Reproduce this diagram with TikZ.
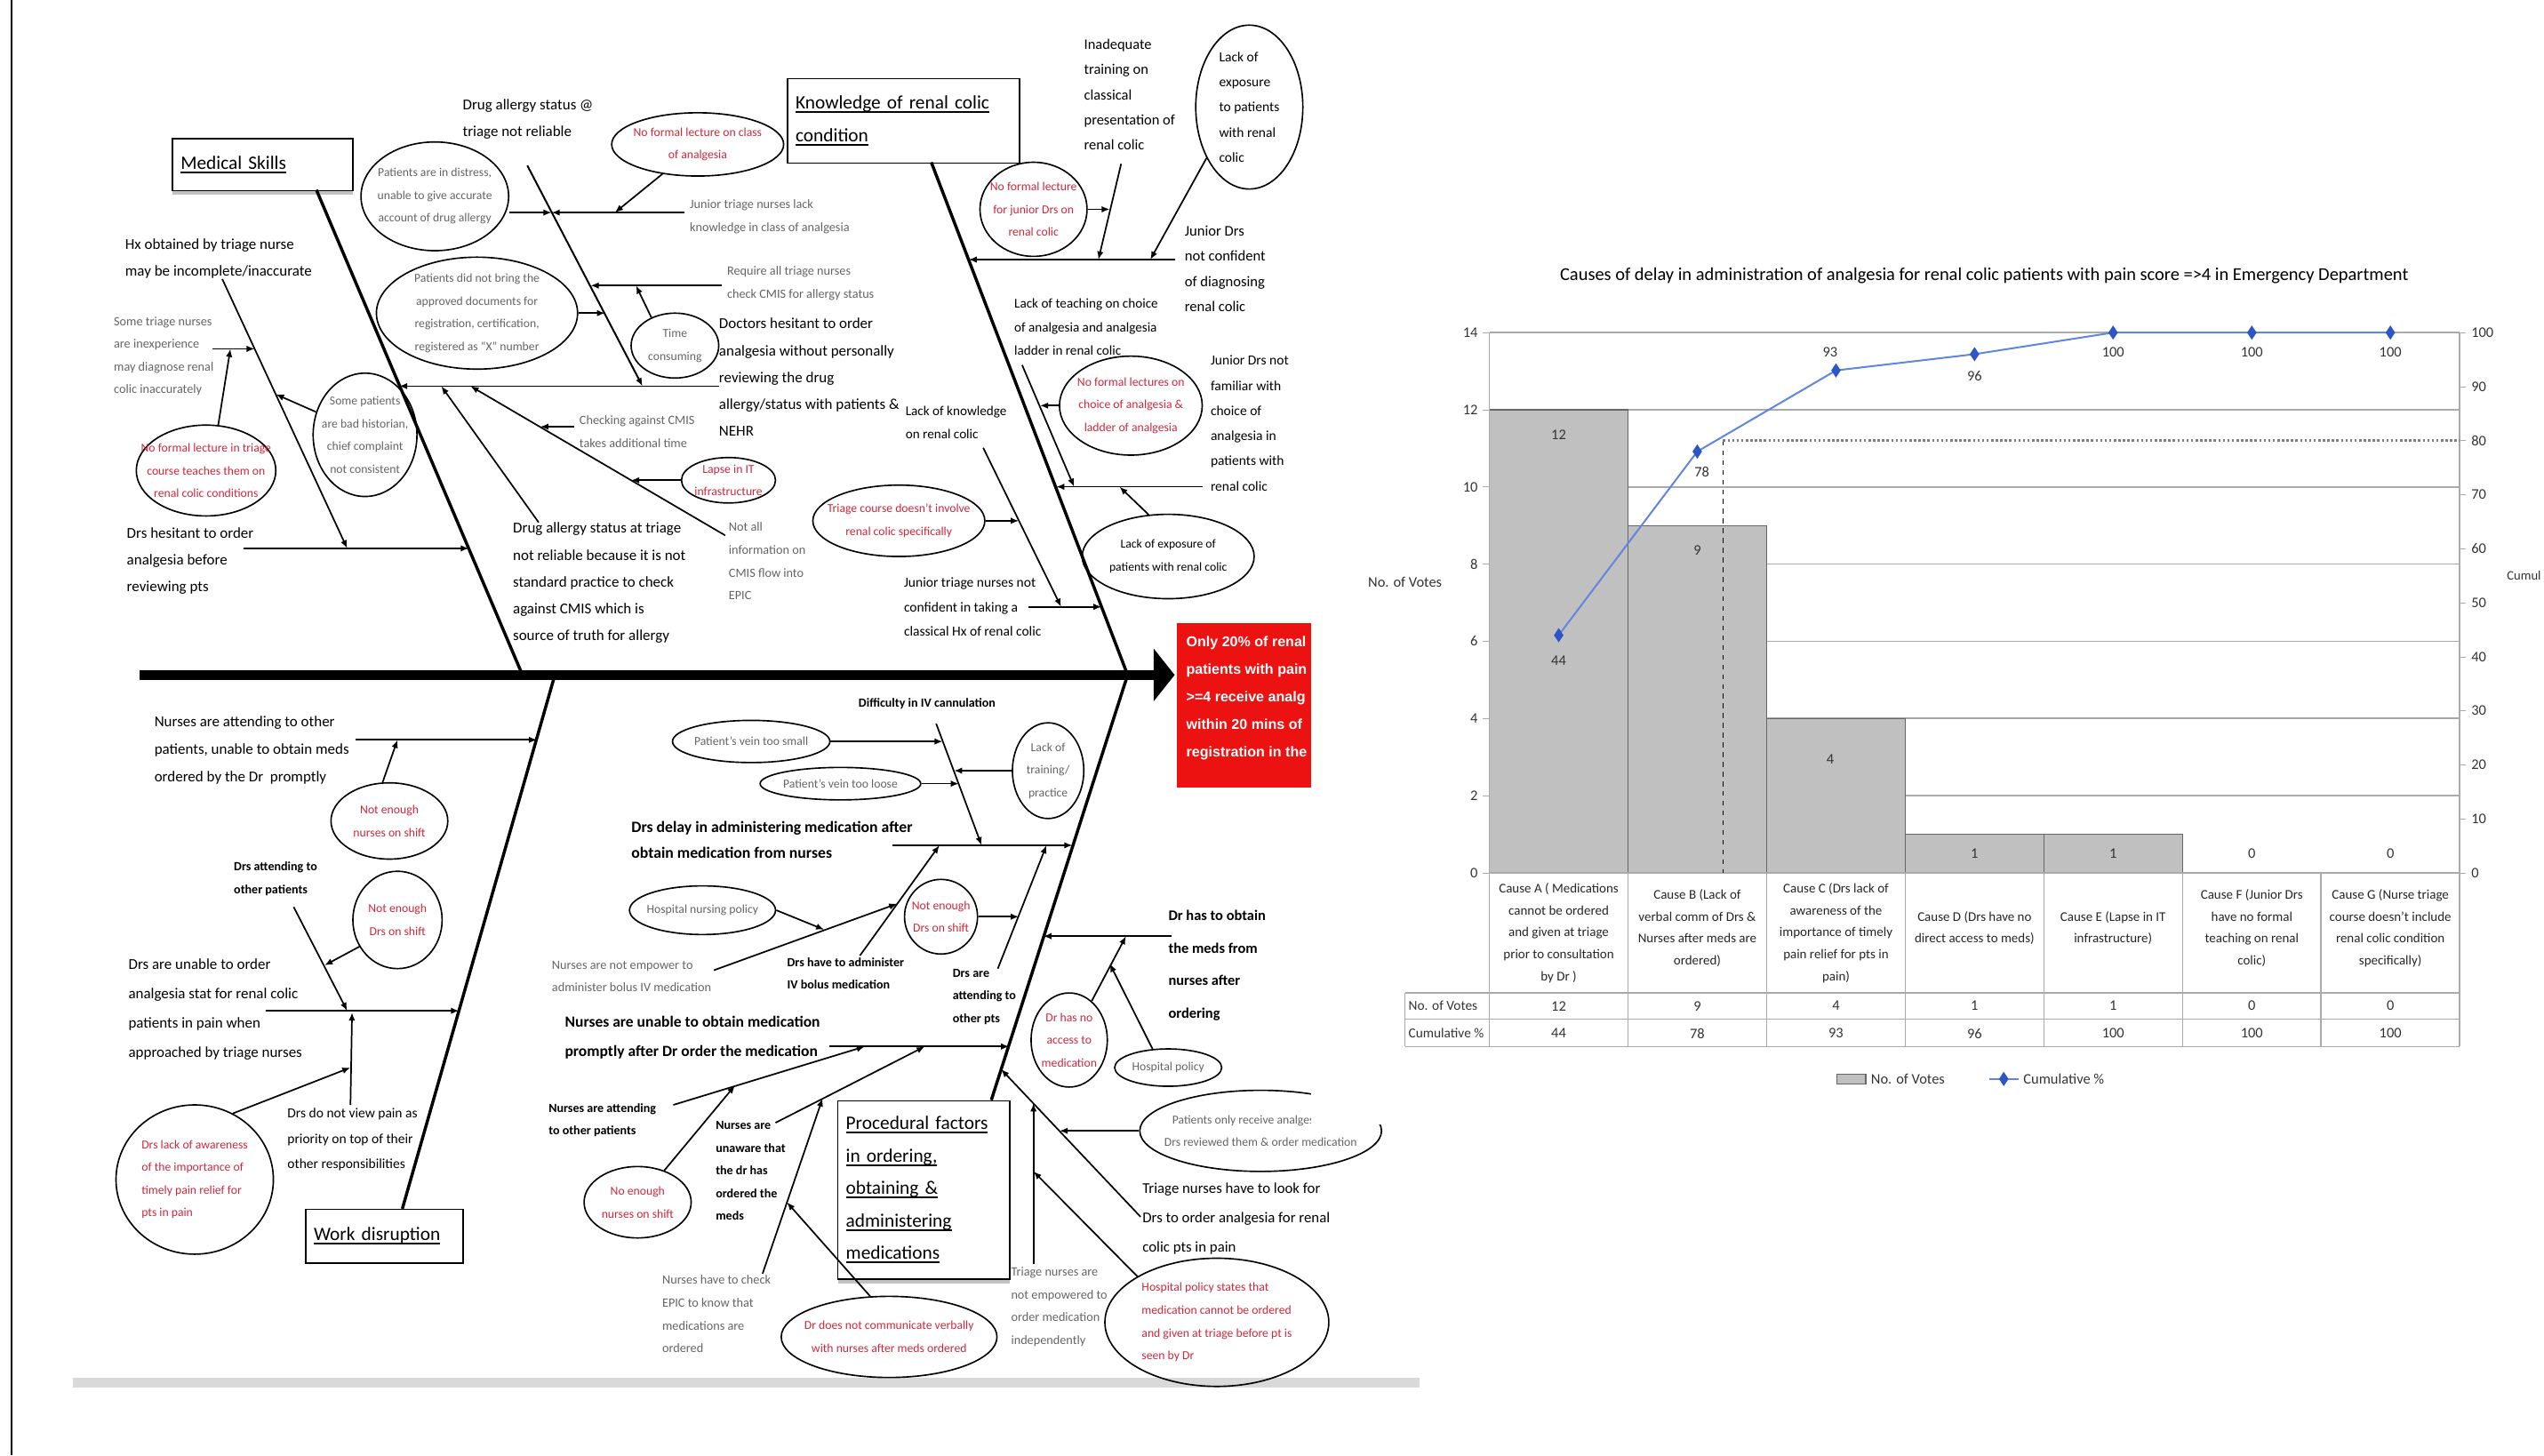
\documentclass[tikz,border=0pt]{standalone}
\usepackage{fontspec}
\setmainfont{Carlito}
\newfontfamily\arialfont{Liberation Sans}
\usetikzlibrary{arrows.meta, shapes.geometric, shadows}

\definecolor{redtxt}{RGB}{205,40,60}
\definecolor{greytxt}{RGB}{100,100,100}
\definecolor{effred}{RGB}{236,18,18}
\definecolor{cumblue}{RGB}{95,135,220}
\definecolor{mkblue}{RGB}{45,85,200}
\definecolor{bargrey}{RGB}{192,192,192}
\definecolor{gridgrey}{RGB}{170,170,170}

\newsavebox{\ulbox}
\newcommand{\ulx}[1]{\leavevmode\sbox{\ulbox}{#1}\rlap{\rule[-2.4pt]{\wd\ulbox}{1.1pt}}\usebox{\ulbox}}

\tikzset{
  cause/.style={font=\fontsize{9.3}{16.5}\selectfont, align=left, anchor=north west, inner sep=0pt},
  mid/.style={font=\fontsize{8.5}{15.5}\selectfont, align=left, anchor=north west, inner sep=0pt},
  note/.style={font=\fontsize{7.8}{14}\selectfont, text=greytxt, align=left, anchor=north west, inner sep=0pt},
  bnote/.style={font=\fontsize{7.7}{14}\selectfont\bfseries, align=left, anchor=north west, inner sep=0pt},
  bcause/.style={font=\fontsize{9.7}{16}\selectfont\bfseries, align=left, anchor=north west, inner sep=0pt},
  ell/.style={draw, ellipse, line width=0.9pt, inner sep=0pt},
  etxt/.style={font=\fontsize{7.5}{14}\selectfont, text=greytxt, align=center, inner sep=0pt},
  rtxt/.style={etxt, text=redtxt},
  catbox/.style={draw, line width=0.8pt, fill=white, anchor=north west, inner ysep=0pt, inner xsep=5pt, font=\fontsize{11.7}{20}\selectfont, align=left},
  shad/.style={drop shadow={shadow xshift=0pt, shadow yshift=-2.5pt, fill=gray!80, opacity=0.6}},
  arr/.style={line width=0.95pt, -{Latex[length=5pt, width=4pt]}},
  bone/.style={line width=1.9pt},
  barst/.style={fill=bargrey, draw=black!60, line width=0.7pt},
  axl/.style={font=\fontsize{9}{10}\selectfont, text=black!80, inner sep=0pt},
  cellt/.style={font=\fontsize{8.2}{13.5}\selectfont, align=center, inner sep=0pt, text=black!85},
  mk/.style={diamond, fill=mkblue, inner sep=0pt, minimum width=6, minimum height=9},
  cum/.style={cumblue, line width=1.1pt}
}

\begin{document}
\begin{tikzpicture}[x=1pt, y=-1pt]
\useasboundingbox (0,0) rectangle (1568,897);

\draw[line width=1pt] (7,0) -- (7,897);
\fill[gray!30] (45,849) rectangle (875,855);

\coordinate (sp1) at (86,416);
\coordinate (sp2) at (724,416);
\draw[line width=6pt, -{Triangle[length=13pt, width=32pt]}] (sp1) -- (sp2);

\node[fill=effred, minimum width=83, minimum height=101, anchor=north west, inner sep=0pt] (eff) at (725,384) {};
\begin{scope}
\clip (eff.north west) rectangle (eff.south east);
\node[anchor=north west, inner sep=0pt, align=left, text=white, font=\arialfont\bfseries\fontsize{8.8}{17}\selectfont] (efft) at (731,392) {Only 20\% of renal\\patients with pain\\>=4 receive analg\\within 20 mins of\\registration in the};
\end{scope}

\node[catbox, shad, text width=101, minimum height=32] (ms) at (106,85) {\ulx{Medical Skills}};
\coordinate (msT) at (195,117);
\coordinate (msB) at (322,416);
\draw[bone] (msT) -- (msB);

\node[cause] (hx) at (77,147) {Hx obtained by triage nurse\\may be incomplete/inaccurate};
\coordinate (hx1) at (137,172);
\coordinate (hx2) at (214,338);
\draw[arr] (hx1) -- (hx2);
\node[note] (stn) at (70,195) {Some triage nurses\\are inexperience\\may diagnose renal\\colic inaccurately};
\coordinate (stn1) at (131,215);
\coordinate (stn2) at (157,215);
\draw[arr] (stn1) -- (stn2);
\node[ell, minimum width=86, minimum height=56] (nfl) at (127,290) {};
\node[rtxt] (nflt) at (nfl) {No formal lecture in triage\\course teaches them on\\renal colic conditions};
\coordinate (nfl2) at (142,215);
\draw[arr] (nfl.75) -- (nfl2);
\node[ell, minimum width=64, minimum height=76] (sbh) at (225,268) {};
\node[etxt] (sbht) at (sbh) {Some patients\\are bad historian,\\chief complaint\\not consistent};
\coordinate (sbh2) at (170,243);
\draw[arr] (sbh.155) -- (sbh2);
\node[cause] (dh) at (78,325) {Drs hesitant to order\\analgesia before\\reviewing pts};
\coordinate (dh1) at (150,338);
\coordinate (dh2) at (289,338);
\draw[arr] (dh1) -- (dh2);

\node[cause] (da) at (285,61) {Drug allergy status @\\triage not reliable};
\coordinate (daT) at (325,102);
\coordinate (daB) at (396,238);
\draw[arr, line width=1.1pt] (daT) -- (daB);
\node[ell, minimum width=91, minimum height=67] (pd) at (268,121) {};
\node[etxt] (pdt) at (pd) {Patients are in distress,\\unable to give accurate\\account of drug allergy};
\node[note] (jt) at (425,123) {Junior triage nurses lack\\knowledge in class of analgesia};
\coordinate (jt1) at (422,131);
\coordinate (jt2) at (340,131);
\draw[arr] (jt1) -- (jt2);
\draw[arr] (pd.east |- jt2) -- (jt2);
\node[ell, minimum width=106, minimum height=39] (nfc) at (430,89) {};
\node[rtxt] (nfct) at (nfc) {No formal lecture on class\\of analgesia};
\coordinate (nfc2) at (379,131);
\draw[arr] (nfc.220) -- (nfc2);
\node[ell, minimum width=124, minimum height=69] (pb) at (294,193) {};
\node[etxt] (pbt) at (pb) {Patients did not bring the\\approved documents for\\registration, certification,\\registered as ``X'' number};
\coordinate (pb2) at (373,193);
\draw[arr] (pb.east) -- (pb2);
\node[note] (rq) at (448,164) {Require all triage nurses\\check CMIS for allergy status};
\coordinate (rq1) at (445,176);
\coordinate (rq2) at (364,176);
\draw[arr] (rq1) -- (rq2);
\node[ell, minimum width=54, minimum height=40] (tc) at (416,213) {};
\node[etxt] (tct) at (tc) {Time\\consuming};
\coordinate (tc2) at (392,176);
\draw[arr] (tc.130) -- (tc2);
\node[cause] (dr) at (443,196) {Doctors hesitant to order\\analgesia without personally\\reviewing the drug\\allergy/status with patients \&\\NEHR};
\coordinate (dr1) at (443,238);
\coordinate (dr2) at (246,238);
\draw[arr] (dr1) -- (dr2);

\node[note] (na) at (449,322) {Not all\\information on\\CMIS flow into\\EPIC};
\coordinate (ck1) at (447,330);
\coordinate (ck2) at (290,238);
\draw[arr] (ck1) -- (ck2);
\node[note] (cm) at (357,256) {Checking against CMIS\\takes additional time};
\coordinate (cm1) at (354,263);
\coordinate (cm2) at (333,263);
\draw[arr] (cm1) -- (cm2);
\node[ell, minimum width=58, minimum height=28] (lit) at (449,296) {};
\node[rtxt] (litt) at (lit) {Lapse in IT\\infrastructure};
\coordinate (lit2) at (389,296);
\draw[arr] (lit.west) -- (lit2);
\node[cause] (dt) at (316,322) {Drug allergy status at triage\\not reliable because it is not\\standard practice to check\\against CMIS which is\\source of truth for allergy};
\coordinate (dt1) at (332,322);
\coordinate (dt2) at (272,238);
\draw[arr] (dt1) -- (dt2);

\node[catbox, text width=133, minimum height=52] (kn) at (485,48) {\ulx{Knowledge of renal colic}\\\ulx{condition}};
\coordinate (kT) at (574,100);
\coordinate (kB) at (695,416);
\draw[bone] (kT) -- (kB);
\node[mid, font=\fontsize{9}{15.5}\selectfont] (ina) at (668,24) {Inadequate\\training on\\classical\\presentation of\\renal colic};
\coordinate (ina1) at (691,101);
\coordinate (ina2) at (677,160);
\draw[arr] (ina1) -- (ina2);
\node[ell, minimum width=66, minimum height=58] (nfj) at (637,129) {};
\node[rtxt] (nfjt) at (nfj) {No formal lecture\\for junior Drs on\\renal colic};
\coordinate (nfj2) at (684,129);
\draw[arr] (nfj.east) -- (nfj2);
\node[ell, minimum width=66, minimum height=101] (lex) at (770,66) {};
\node[mid, anchor=center] (lext) at (lex) {Lack of\\exposure\\to patients\\with renal\\colic};
\coordinate (lex2) at (709,160);
\draw[arr] (lex.230) -- (lex2);
\coordinate (jd1) at (724,160);
\coordinate (jd2) at (597,160);
\draw[arr] (jd1) -- (jd2);
\node[cause, font=\fontsize{9.1}{15.5}\selectfont] (jd) at (730,139) {Junior Drs\\not confident\\of diagnosing\\renal colic};
\node[mid, font=\fontsize{8.3}{14.5}\selectfont] (lt) at (625,184) {Lack of teaching on choice\\of analgesia and analgesia\\ladder in renal colic};
\coordinate (lt1) at (630,225);
\coordinate (lt2) at (662,300);
\draw[arr] (lt1) -- (lt2);
\node[ell, minimum width=88, minimum height=61] (nfa) at (697,250) {};
\node[rtxt] (nfat) at (nfa) {No formal lectures on\\choice of analgesia \&\\ladder of analgesia};
\coordinate (nfa2) at (641,250);
\draw[arr] (nfa.west) -- (nfa2);
\node[mid, font=\fontsize{8.3}{14.5}\selectfont] (lk) at (558,250) {Lack of knowledge\\on renal colic};
\coordinate (lk1) at (606,276);
\coordinate (lk2) at (654,374);
\draw[arr] (lk1) -- (lk2);
\coordinate (jf1) at (741,300);
\coordinate (jf2) at (651,300);
\draw[arr] (jf1) -- (jf2);
\node[mid, font=\fontsize{8.5}{15.5}\selectfont] (jf) at (746,219) {Junior Drs not\\familiar with\\choice of\\analgesia in\\patients with\\renal colic};
\node[ell, minimum width=106, minimum height=52] (lep) at (720,343) {};
\node[etxt, text=black] (lept) at (lep) {Lack of exposure of\\patients with renal colic};
\coordinate (lep2) at (690,300);
\draw[arr] (lep.115) -- (lep2);
\node[ell, minimum width=106, minimum height=44] (tcd) at (554,321) {};
\node[rtxt] (tcdt) at (tcd) {Triage course doesn't involve\\renal colic specifically};
\coordinate (tcd2) at (628,321);
\draw[arr] (tcd.east) -- (tcd2);
\node[mid, font=\fontsize{8.5}{15}\selectfont] (jn) at (557,356) {Junior triage nurses not\\confident in taking a\\classical Hx of renal colic};
\coordinate (jn1) at (634,374);
\coordinate (jn2) at (679,374);
\draw[arr] (jn1) -- (jn2);

\node[catbox, text width=87, minimum height=33] (wd) at (188,745) {\ulx{Work disruption}};
\coordinate (wdB) at (248,745);
\coordinate (wdT) at (342,416);
\draw[bone] (wdB) -- (wdT);
\node[cause, font=\fontsize{9.3}{17}\selectfont] (nu) at (95,441) {Nurses are attending to other\\patients, unable to obtain meds\\ordered by the Dr\ \ promptly};
\coordinate (nu1) at (219,456);
\coordinate (nu2) at (331,456);
\draw[arr] (nu1) -- (nu2);
\node[ell, minimum width=72, minimum height=47] (nen) at (240,506) {};
\node[rtxt] (nent) at (nen) {Not enough\\nurses on shift};
\coordinate (nen2) at (245,456);
\draw[arr] (nen.100) -- (nen2);
\node[bnote] (dat) at (144,531) {Drs attending to\\other patients};
\coordinate (dat1) at (181,559);
\coordinate (dat2) at (214,623);
\draw[arr] (dat1) -- (dat2);
\node[ell, minimum width=55, minimum height=60] (ned) at (245,567) {};
\node[rtxt] (nedt) at (ned) {Not enough\\Drs on shift};
\coordinate (ned2) at (200,595);
\draw[arr] (ned.215) -- (ned2);
\node[cause, font=\fontsize{9.3}{18}\selectfont] (du) at (79,591) {Drs are unable to order\\analgesia stat for renal colic\\patients in pain when\\approached by triage nurses};
\coordinate (du1) at (164,623);
\coordinate (du2) at (283,623);
\draw[arr] (du1) -- (du2);
\node[mid] (dnv) at (177,683) {Drs do not view pain as\\priority on top of their\\other responsibilities};
\coordinate (dnv1) at (216,681);
\coordinate (dnv2) at (217,624);
\draw[arr] (dnv1) -- (dnv2);
\node[ell, minimum width=97, minimum height=92] (dla) at (120,727) {};
\node[rtxt, align=left] (dlat) at (dla) {Drs lack of awareness\\of the importance of\\timely pain relief for\\pts in pain};
\coordinate (dla2) at (216,658);
\draw[arr] (dla.60) -- (dla2);

\node[catbox, shad, text width=96, minimum height=110] (pf) at (516,678) {\ulx{Procedural factors}\\\ulx{in ordering,}\\\ulx{obtaining \&}\\\ulx{administering}\\\ulx{medications}};
\coordinate (pB) at (611,678);
\coordinate (pT) at (695,416);
\draw[bone] (pB) -- (pT);
\node[bnote] (div) at (529,430) {Difficulty in IV cannulation};
\coordinate (div1) at (577,446);
\coordinate (div2) at (605,521);
\draw[arr] (div1) -- (div2);
\node[ell, minimum width=97, minimum height=26] (vs) at (463,457) {};
\node[etxt] (vst) at (vs) {Patient's vein too small};
\coordinate (vs2) at (581,457);
\draw[arr] (vs.east) -- (vs2);
\node[ell, minimum width=99, minimum height=20] (vl) at (518,483) {};
\node[etxt] (vlt) at (vl) {Patient's vein too loose};
\coordinate (vl2) at (591,483);
\draw[arr] (vl.east) -- (vl2);
\node[ell, minimum width=44, minimum height=59] (ltp) at (646,475) {};
\node[etxt] (ltpt) at (ltp) {Lack of\\training/\\practice};
\coordinate (ltp2) at (588,475);
\draw[arr] (ltp.west) -- (ltp2);
\node[bcause] (dd) at (389,506) {Drs delay in administering medication after\\obtain medication from nurses};
\coordinate (dd1) at (550,521);
\coordinate (dd2) at (661,521);
\draw[arr] (dd1) -- (dd2);
\node[ell, minimum width=90, minimum height=30] (hnp) at (433,561) {};
\node[etxt] (hnpt) at (hnp) {Hospital nursing policy};
\node[note] (ne) at (340,592) {Nurses are not empower to\\administer bolus IV medication};
\coordinate (ne1) at (440,598);
\coordinate (ne2) at (553,557);
\draw[arr] (ne1) -- (ne2);
\coordinate (hnp2) at (508,573);
\draw[arr] (hnp.east) -- (hnp2);
\node[bnote] (dha) at (485,590) {Drs have to administer\\IV bolus medication};
\coordinate (dha1) at (530,589);
\coordinate (dha2) at (579,521);
\draw[arr] (dha1) -- (dha2);
\node[ell, minimum width=45, minimum height=46] (nes) at (580,565) {};
\node[rtxt] (nest) at (nes) {Not enough\\Drs on shift};
\node[bnote] (dao) at (587,597) {Drs are\\attending to\\other pts};
\coordinate (dao1) at (615,597);
\coordinate (dao2) at (645,521);
\draw[arr] (dao1) -- (dao2);
\coordinate (nes2) at (628,565);
\draw[arr] (nes.east) -- (nes2);
\node[bcause, font=\fontsize{9.6}{18}\selectfont\bfseries] (nuo) at (348,626) {Nurses are unable to obtain medication\\promptly after Dr order the medication};
\coordinate (nuo1) at (511,645);
\coordinate (nuo2) at (622,645);
\draw[arr] (nuo1) -- (nuo2);
\node[bnote] (nat) at (338,680) {Nurses are attending\\to other patients};
\coordinate (nat1) at (415,681);
\coordinate (nat2) at (533,645);
\draw[arr] (nat1) -- (nat2);
\node[ell, minimum width=66, minimum height=44] (nns) at (393,741) {};
\node[rtxt] (nnst) at (nns) {No enough\\nurses on shift};
\coordinate (nns2) at (453,669);
\draw[arr] (nns.50) -- (nns2);
\node[bnote] (nua) at (441,691) {Nurses are\\unaware that\\the dr has\\ordered the\\meds};
\coordinate (nua1) at (478,692);
\coordinate (nua2) at (570,645);
\draw[arr] (nua1) -- (nua2);
\node[note] (nhc) at (408,786) {Nurses have to check\\EPIC to know that\\medications are\\ordered};
\coordinate (nhc1) at (470,785);
\coordinate (nhc2) at (507,677);
\draw[arr] (nhc1) -- (nhc2);
\node[ell, minimum width=133, minimum height=50] (dnc) at (548,824) {};
\node[rtxt] (dnct) at (dnc) {Dr does not communicate verbally\\with nurses after meds ordered};
\coordinate (dnc2) at (485,741);
\draw[arr] (dnc.115) -- (dnc2);

\node[bcause, font=\fontsize{9}{20}\selectfont\bfseries] (dho) at (720,561) {Dr has to obtain\\the meds from\\nurses after\\ordering};
\coordinate (dho1) at (722,577);
\coordinate (dho2) at (643,577);
\draw[arr] (dho1) -- (dho2);
\node[ell, minimum width=47, minimum height=58] (dna) at (659,641) {};
\node[rtxt] (dnat) at (dna) {Dr has no\\access to\\medication};
\coordinate (dna2) at (694,577);
\draw[arr] (dna.60) -- (dna2);
\node[ell, minimum width=66, minimum height=23] (hp) at (720,658) {};
\node[etxt] (hpt) at (hp) {Hospital policy};
\coordinate (hp2) at (684,594);
\draw[arr] (hp.130) -- (hp2);
\node[ell, minimum width=149, minimum height=50] (por) at (777,697) {};
\node[etxt] (port) at (por) {Patients only receive analgesia after\\Drs reviewed them \& order medication};
\coordinate (por2) at (653,697);
\draw[arr] (por.west) -- (por2);
\fill[white] (808,672) rectangle (868,693);
\node[cause, font=\fontsize{9.2}{18}\selectfont] (tn) at (704,729) {Triage nurses have to look for\\Drs to order analgesia for renal\\colic pts in pain};
\coordinate (tn1) at (703,750);
\coordinate (tn2) at (617,659);
\draw[arr] (tn1) -- (tn2);
\node[note] (tne) at (623,781) {Triage nurses are\\not empowered to\\order medication\\independently};
\coordinate (tne1) at (637,779);
\coordinate (tne2) at (637,680);
\draw[arr] (tne1) -- (tne2);
\node[ell, minimum width=138, minimum height=79] (hps) at (750,815) {};
\node[rtxt, align=left] (hpst) at (hps) {Hospital policy states that\\medication cannot be ordered\\and given at triage before pt is\\seen by Dr};
\coordinate (hps2) at (637,722);
\draw[arr] (hps.150) -- (hps2);

% pareto chart
\node[font=\fontsize{11.2}{13}\selectfont, inner sep=0pt] (ttl) at (1223,170) {Causes of delay in administration of analgesia for renal colic patients with pain score =>4 in Emergency Department};
\foreach \v in {2,4,...,14}
  \draw[gridgrey, line width=0.9pt] (918,{538-23.79*\v}) -- (1516,{538-23.79*\v});
\draw[barst] (918,538) rectangle (1003.4,252.5);
\draw[barst] (1003.4,538) rectangle (1088.9,323.9);
\draw[barst] (1088.9,538) rectangle (1174.3,442.8);
\draw[barst] (1174.3,538) rectangle (1259.7,514.2);
\draw[barst] (1259.7,538) rectangle (1345.1,514.2);
\draw[gridgrey, line width=0.8pt] (918,205) -- (918,538) -- (1516,538) -- (1516,205);
\foreach \v in {0,2,...,14} {
  \draw[gridgrey] (914,{538-23.79*\v}) -- (918,{538-23.79*\v});
  \node[axl, anchor=east] (yl\v) at (911,{538-23.79*\v}) {\v};
}
\foreach \p in {0,10,...,100} {
  \draw[gridgrey] (1516,{538-3.33*\p}) -- (1520,{538-3.33*\p});
  \node[axl, anchor=west] (yr\p) at (1523,{538-3.33*\p}) {\p};
}
\node[axl] (ytl) at (866,359) {No. of Votes};
\node[axl, anchor=west, font=\fontsize{8}{9}\selectfont] (ytr) at (1545,355) {Cumul};
\draw[dashed, line width=0.7pt] (1062,271.6) -- (1062,538);
\draw[gray, line width=1.8pt, dash pattern=on 1.4pt off 1.4pt] (1062,271.6) -- (1516,271.6);

\coordinate (c1) at (960.7,391.5);
\coordinate (c2) at (1046.1,278.3);
\coordinate (c3) at (1131.6,228.3);
\coordinate (c4) at (1217,218.3);
\coordinate (c5) at (1302.4,205);
\coordinate (c6) at (1387.9,205);
\coordinate (c7) at (1473.3,205);
\draw[cum] (c1) -- (c2) -- (c3) -- (c4) -- (c5) -- (c6) -- (c7);
\node[mk] (m1) at (c1) {};
\node[mk] (m2) at (c2) {};
\node[mk] (m3) at (c3) {};
\node[mk] (m4) at (c4) {};
\node[mk] (m5) at (c5) {};
\node[mk] (m6) at (c6) {};
\node[mk] (m7) at (c7) {};

\node[axl] (v1) at (960.7,268) {12};
\node[axl] (v2) at (1046.1,339) {9};
\node[axl] (v3) at (1128,468) {4};
\node[axl] (v4) at (1217,526) {1};
\node[axl] (v5) at (1302.4,526) {1};
\node[axl] (v6) at (1387.9,526) {0};
\node[axl] (v7) at (1473.3,526) {0};
\node[axl] (p1) at (960.7,407) {44};
\node[axl] (p2) at (1049,291) {78};
\node[axl] (p3) at (1128,217) {93};
\node[axl] (p4) at (1217,232) {96};
\node[axl] (p5) at (1302.4,217) {100};
\node[axl] (p6) at (1387.9,217) {100};
\node[axl] (p7) at (1473.3,217) {100};

\foreach \k in {0,...,7}
  \draw[gridgrey, line width=0.8pt] ({918+85.43*\k},538) -- ({918+85.43*\k},645);
\draw[gridgrey, line width=0.8pt] (866,612) -- (1516,612);
\draw[gridgrey, line width=0.8pt] (866,628) -- (1516,628);
\draw[gridgrey, line width=0.8pt] (866,645) -- (1516,645);
\draw[gridgrey, line width=0.8pt] (866,612) -- (866,645);
\node[cellt] (ca) at (960.7,575) {Cause A ( Medications\\cannot be ordered\\and given at triage\\prior to consultation\\by Dr )};
\node[cellt] (cb) at (1046.1,572) {Cause B (Lack of\\verbal comm of Drs \&\\Nurses after meds are\\ordered)};
\node[cellt] (cc) at (1131.6,575) {Cause C (Drs lack of\\awareness of the\\importance of timely\\pain relief for pts in\\pain)};
\node[cellt] (cd) at (1217,572) {Cause D (Drs have no\\direct access to meds)};
\node[cellt] (ce) at (1302.4,572) {Cause E (Lapse in IT\\infrastructure)};
\node[cellt] (cf) at (1387.9,572) {Cause F (Junior Drs\\have no formal\\teaching on renal\\colic)};
\node[cellt] (cg) at (1473.3,572) {Cause G (Nurse triage\\course doesn't include\\renal colic condition\\specifically)};
\node[axl, anchor=west, font=\fontsize{8.4}{10}\selectfont] (rv) at (868,620) {No. of Votes};
\node[axl, anchor=west, font=\fontsize{8.4}{10}\selectfont] (rc) at (868,637) {Cumulative \%};
\node[axl] (t1) at (960.7,620) {12};
\node[axl] (t2) at (1046.1,620) {9};
\node[axl] (t3) at (1131.6,620) {4};
\node[axl] (t4) at (1217,620) {1};
\node[axl] (t5) at (1302.4,620) {1};
\node[axl] (t6) at (1387.9,620) {0};
\node[axl] (t7) at (1473.3,620) {0};
\node[axl] (u1) at (960.7,637) {44};
\node[axl] (u2) at (1046.1,637) {78};
\node[axl] (u3) at (1131.6,637) {93};
\node[axl] (u4) at (1217,637) {96};
\node[axl] (u5) at (1302.4,637) {100};
\node[axl] (u6) at (1387.9,637) {100};
\node[axl] (u7) at (1473.3,637) {100};

\draw[barst] (1132,662) rectangle (1150,668);
\node[axl, anchor=west] (lg1) at (1153,665) {No. of Votes};
\coordinate (lgA) at (1226,665);
\coordinate (lgB) at (1244,665);
\draw[cum] (lgA) -- (lgB);
\node[mk] (lgm) at (1235,665) {};
\node[axl, anchor=west] (lg2) at (1247,665) {Cumulative \%};
\end{tikzpicture}
\end{document}
